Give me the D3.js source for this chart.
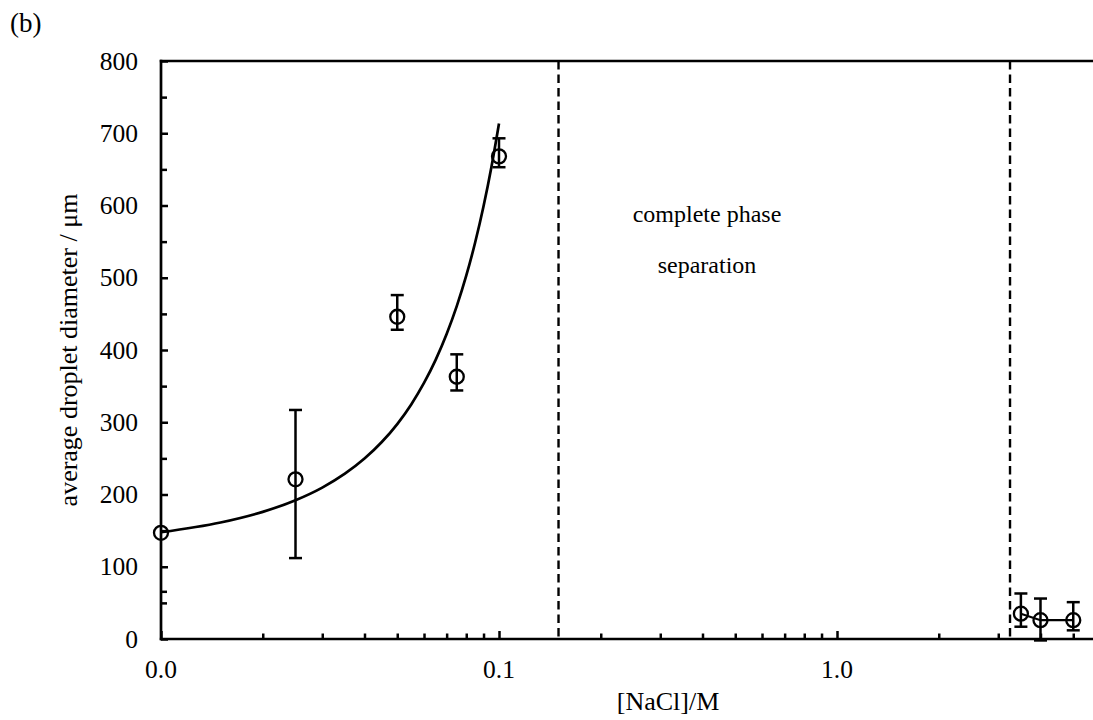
<!DOCTYPE html>
<html>
<head>
<meta charset="utf-8">
<script src="https://cdn.jsdelivr.net/npm/d3@7"></script>
<style>
  html, body { margin: 0; padding: 0; background: #fff; }
  svg { display: block; }
  text { font-family: "Liberation Serif", "Times New Roman", serif; fill: #000; }
</style>
</head>
<body>
<div id="chart"></div>
<script>
// ---- data ----
const concLow = [0.01, 0.025, 0.05, 0.075, 0.1];
const diamLow = [147, 221, 446, 363, 668];
const upperLow = [147, 317, 476, 394, 693];
const lowerLow = [147, 112, 428, 344, 653];

const concHigh = [3.5, 4, 5];
const diamHigh = [35, 26, 26];
const upperHigh = [63, 56, 51];
const lowerHigh = [17, -2, 12];

// fitted curve
const fitConc = [0.01, 0.015, 0.02, 0.025, 0.03, 0.035, 0.04, 0.045, 0.05, 0.055,
                 0.06, 0.065, 0.07, 0.075, 0.08, 0.085, 0.09, 0.095, 0.1];
const fitDiam = [147.7, 161.2, 176.0, 192.1, 209.6, 228.8, 249.7, 272.6, 297.5, 324.7,
                 354.4, 386.7, 422.1, 460.7, 502.8, 548.8, 599.0, 653.8, 713.6];

const boundaries = [0.15, 3.25];

const xMajorTicks = [0.01, 0.1, 1];
const xTickLabels = ["0.0", "0.1", "1.0"];
const xMinorTicks = [0.02, 0.03, 0.04, 0.05, 0.06, 0.07, 0.08, 0.09,
                     0.2, 0.3, 0.4, 0.5, 0.6, 0.7, 0.8, 0.9, 2, 3, 4, 5];
const yMajorTicks = [0, 100, 200, 300, 400, 500, 600, 700, 800];
const yMinorTicks = [50, 66, 150, 250, 350, 450, 550, 650, 750];

// ---- layout ----
const W = 1093, H = 720;
const pLeft = 161, pTop = 61, pBottom = 639, pRight = W;

const svg = d3.select("#chart").append("svg")
  .attr("width", W).attr("height", H);
svg.append("rect").attr("width", W).attr("height", H).attr("fill", "#fff");

const x = d3.scaleLog().domain([0.01, 10]).range([pLeft, pLeft + 3 * 338]);
const y = d3.scaleLinear().domain([0, 800]).range([pBottom, pTop]);

// dashed boundaries
svg.selectAll("line.bnd").data(boundaries).enter().append("line")
  .attr("x1", d => x(d)).attr("x2", d => x(d))
  .attr("y1", y(800)).attr("y2", y(0))
  .attr("stroke", "#000").attr("stroke-width", 2.4)
  .attr("stroke-dasharray", "8.5,5");

// axes
const yAxis = d3.axisRight(y).tickValues(yMajorTicks).tickSize(7).tickFormat("");
const gy = svg.append("g").attr("transform", `translate(${pLeft},0)`).call(yAxis);
const yAxisMinor = d3.axisRight(y).tickValues(yMinorTicks).tickSize(6).tickFormat("");
const gy2 = svg.append("g").attr("transform", `translate(${pLeft},0)`).call(yAxisMinor);
[gy, gy2].forEach(g => {
  g.select(".domain").remove();
  g.selectAll(".tick line").attr("stroke", "#000").attr("stroke-width", 2.5);
});

const xAxis = d3.axisTop(x).tickValues(xMajorTicks).tickSize(8).tickFormat("");
const gx = svg.append("g").attr("transform", `translate(0,${pBottom})`).call(xAxis);
const xAxisMinor = d3.axisTop(x).tickValues(xMinorTicks).tickSize(5.5).tickFormat("");
const gx2 = svg.append("g").attr("transform", `translate(0,${pBottom})`).call(xAxisMinor);
[gx, gx2].forEach(g => {
  g.select(".domain").remove();
  g.selectAll(".tick line").attr("stroke", "#000").attr("stroke-width", 2.5);
});

// frame lines
svg.append("line").attr("x1", pLeft).attr("x2", pLeft).attr("y1", pTop - 1.2).attr("y2", pBottom + 1.2)
  .attr("stroke", "#000").attr("stroke-width", 2.7);
svg.append("line").attr("x1", pLeft - 1.2).attr("x2", pRight).attr("y1", pBottom).attr("y2", pBottom)
  .attr("stroke", "#000").attr("stroke-width", 2.7);
svg.append("line").attr("x1", pLeft - 1.2).attr("x2", pRight).attr("y1", pTop).attr("y2", pTop)
  .attr("stroke", "#000").attr("stroke-width", 2.7);

// tick labels
svg.selectAll("text.ylab").data(yMajorTicks).enter().append("text")
  .attr("x", 138).attr("y", d => y(d)).attr("dy", "0.34em")
  .attr("text-anchor", "end").attr("font-size", 25.5).text(d => d);
svg.selectAll("text.xlab").data(xMajorTicks).enter().append("text")
  .attr("x", d => x(d)).attr("y", 678)
  .attr("text-anchor", "middle").attr("font-size", 25.5).text((d, i) => xTickLabels[i]);

// axis titles
svg.append("text").attr("x", 668).attr("y", 710).attr("text-anchor", "middle")
  .attr("font-size", 26).text("[NaCl]/M");
svg.append("text").attr("transform", "translate(77,350) rotate(-90)")
  .attr("text-anchor", "middle").attr("font-size", 26)
  .text("average droplet diameter / μm");
svg.append("text").attr("x", 10).attr("y", 32).attr("font-size", 27).text("(b)");

// annotation
svg.append("text").attr("x", 707).attr("y", 222).attr("text-anchor", "middle")
  .attr("font-size", 24).text("complete phase");
svg.append("text").attr("x", 707).attr("y", 273).attr("text-anchor", "middle")
  .attr("font-size", 24).text("separation");

// fit curve
const fitPts = fitConc.map((c, i) => [c, fitDiam[i]]);
svg.append("path").datum(fitPts)
  .attr("d", d3.line().x(d => x(d[0])).y(d => y(d[1])).curve(d3.curveMonotoneX))
  .attr("fill", "none").attr("stroke", "#000").attr("stroke-width", 2.7);

// high concentration connecting line
const highPts = concHigh.map((c, i) => [c, diamHigh[i]]);
svg.append("path").datum(highPts)
  .attr("d", d3.line().x(d => x(d[0])).y(d => y(d[1])))
  .attr("fill", "none").attr("stroke", "#000").attr("stroke-width", 2.2);

// points with error bars
function drawPoints(conc, diam, up, lo) {
  const data = conc.map((c, i) => ({ c, d: diam[i], u: up[i], l: lo[i] }));
  const g = svg.append("g");
  const withErr = data.filter(p => p.u !== p.l);
  g.selectAll("line.eb").data(withErr).enter().append("line")
    .attr("x1", p => x(p.c)).attr("x2", p => x(p.c))
    .attr("y1", p => y(p.u)).attr("y2", p => y(p.l))
    .attr("stroke", "#000").attr("stroke-width", 2.5);
  ["u", "l"].forEach(k => {
    g.selectAll("line.cap" + k).data(withErr).enter().append("line")
      .attr("x1", p => x(p.c) - 6.5).attr("x2", p => x(p.c) + 6.5)
      .attr("y1", p => y(p[k])).attr("y2", p => y(p[k]))
      .attr("stroke", "#000").attr("stroke-width", 2.5);
  });
  g.selectAll("circle").data(data).enter().append("circle")
    .attr("cx", p => x(p.c)).attr("cy", p => y(p.d)).attr("r", 7)
    .attr("fill", "none").attr("stroke", "#000").attr("stroke-width", 2.3);
}
drawPoints(concLow, diamLow, upperLow, lowerLow);
drawPoints(concHigh, diamHigh, upperHigh, lowerHigh);
</script>
</body>
</html>
